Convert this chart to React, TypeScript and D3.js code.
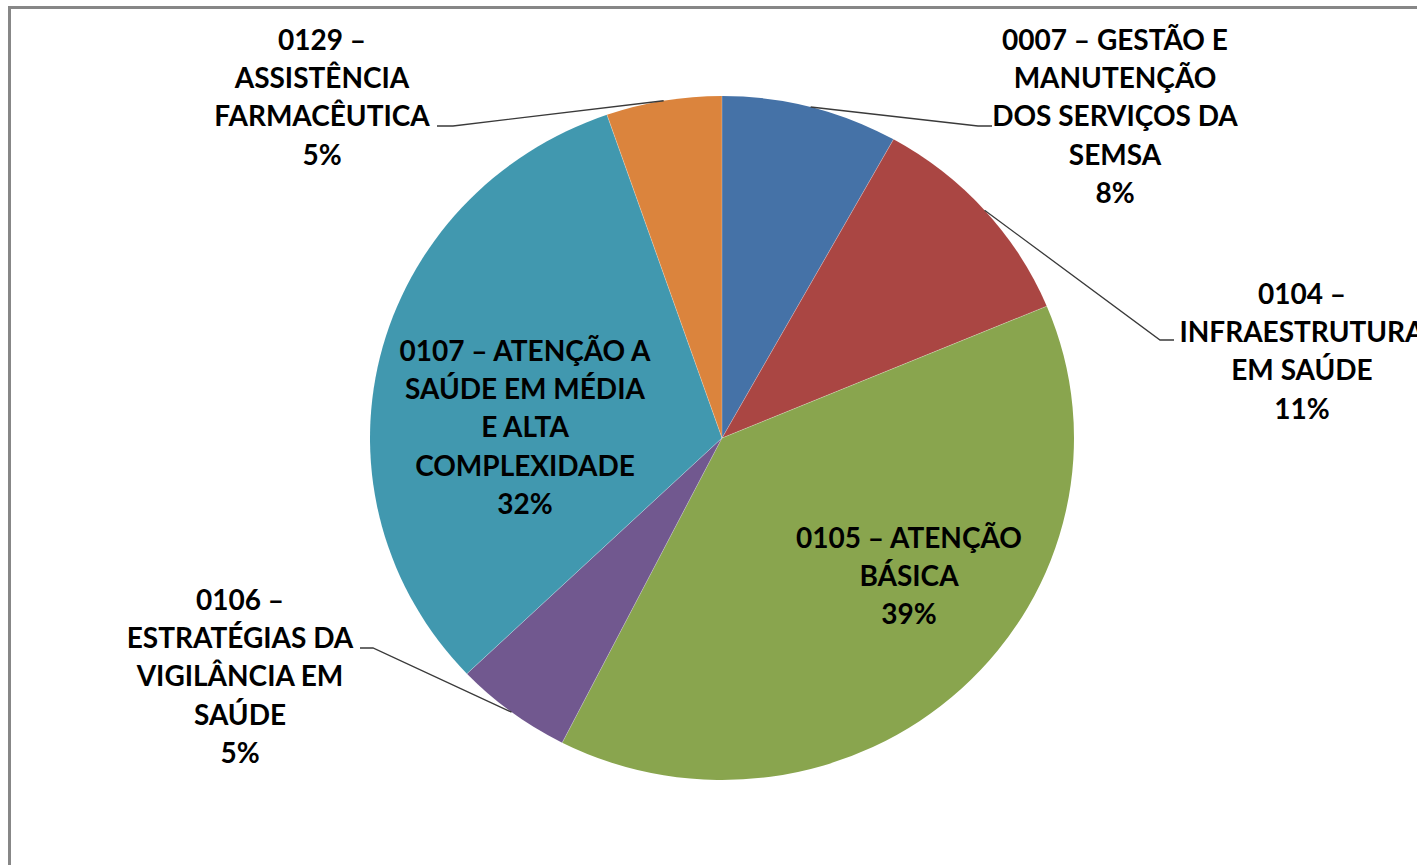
import React, { useEffect, useRef } from "react";
import * as d3 from "d3";

// program names (one line per array entry) and share of budget (%)
const categories = [
  ["0007 – GESTÃO E", "MANUTENÇÃO", "DOS SERVIÇOS DA", "SEMSA"],
  ["0104 –", "INFRAESTRUTURA", "EM SAÚDE"],
  ["0105 – ATENÇÃO", "BÁSICA"],
  ["0106 –", "ESTRATÉGIAS DA", "VIGILÂNCIA EM", "SAÚDE"],
  ["0107 – ATENÇÃO A", "SAÚDE EM MÉDIA", "E ALTA", "COMPLEXIDADE"],
  ["0129 –", "ASSISTÊNCIA", "FARMACÊUTICA"],
];
const values = [8.1, 10.6, 38.8, 5.4, 31.8, 5.3];
const colors = ["#4572A7", "#AA4643", "#89A54E", "#71588F", "#4198AF", "#DB843D"];

// label layout: centre x, first line centre y
const labelPos = [
  [1115, 40],
  [1302, 294],
  [909, 538],
  [240, 600],
  [525, 351],
  [322, 40],
];
// leader lines: elbow point and end point near the text (null = inside label)
const leaders = [
  [[978, 126], [992, 126]],
  [[1160, 340], [1174, 340]],
  null,
  [[373, 648], [360, 648]],
  null,
  [[453, 126], [437, 126]],
];

const W = 1417;
const H = 865;

export default function App() {
  const ref = useRef<SVGSVGElement>(null);

  useEffect(() => {
    const svg = d3.select(ref.current);
    svg.selectAll("*").remove();

    const cx = 722;
    const cy = 438;
    const rx = 352;
    const ry = 342;

    svg
      .append("rect")
      .attr("x", 9.5)
      .attr("y", 7.5)
      .attr("width", W + 20)
      .attr("height", H + 20)
      .attr("fill", "#fff")
      .attr("stroke", "#878787")
      .attr("stroke-width", 3);

    const pie = d3.pie<number>().sort(null).value((d) => d);
    const arcs = pie(values);
    const arc = d3.arc<d3.PieArcDatum<number>>().innerRadius(0).outerRadius(rx);

    const g = svg
      .append("g")
      .attr("transform", `translate(${cx},${cy}) scale(1,${ry / rx})`);

    g.selectAll("path")
      .data(arcs)
      .enter()
      .append("path")
      .attr("d", arc)
      .attr("fill", (_, i) => colors[i])
      .attr("stroke", "none");

    // thin light separators like Excel
    g.selectAll("line")
      .data(arcs)
      .enter()
      .append("line")
      .attr("x1", 0)
      .attr("y1", 0)
      .attr("x2", (d) => rx * Math.sin(d.startAngle))
      .attr("y2", (d) => -rx * Math.cos(d.startAngle))
      .attr("stroke", "#ffffff")
      .attr("stroke-opacity", 0.35)
      .attr("stroke-width", 0.8);

    const line = d3.line();
    arcs.forEach((d, i) => {
      const l = leaders[i];
      if (!l) return;
      const mid = (d.startAngle + d.endAngle) / 2;
      const start: [number, number] = [cx + rx * Math.sin(mid), cy - ry * Math.cos(mid)];
      svg
        .append("path")
        .attr("d", line([start, l[0] as [number, number], l[1] as [number, number]]))
        .attr("fill", "none")
        .attr("stroke", "#3a3a3a")
        .attr("stroke-width", 1.3);
    });

    const pct = d3.format(".0%");
    const total = d3.sum(values);
    const lh = 38.2;

    arcs.forEach((d, i) => {
      const [x, y0] = labelPos[i];
      const lines = [...categories[i], pct(values[i] / total)];
      const t = svg
        .append("text")
        .attr("text-anchor", "middle")
        .attr("font-family", "Lato, 'Open Sans', sans-serif")
        .attr("font-weight", 700)
        .attr("font-size", 28)
        .attr("fill", "#000");
      lines.forEach((s, k) => {
        t.append("tspan")
          .attr("x", x)
          .attr("y", y0 + k * lh + 10)
          .text(s);
      });
    });
  }, []);

  return (
    <svg
      ref={ref}
      width={W}
      height={H}
      style={{ position: "absolute", left: 0, top: 0, background: "#fff" }}
    />
  );
}
